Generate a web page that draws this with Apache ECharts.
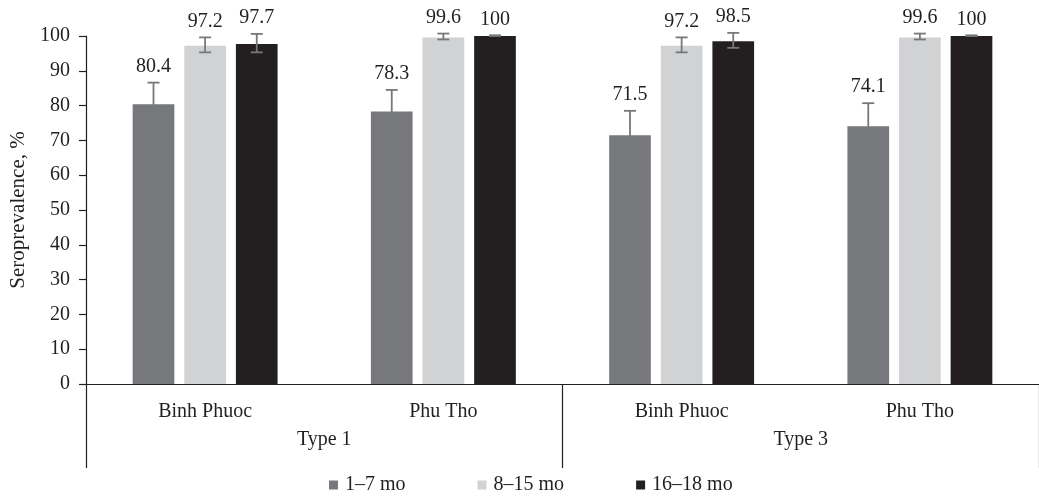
<!DOCTYPE html>
<html><head><meta charset="utf-8">
<script src="https://cdn.jsdelivr.net/npm/echarts@6/dist/echarts.min.js"></script>
<style>html,body{margin:0;padding:0;background:#fff}#c{width:1039px;height:500px}</style>
</head><body><div id="c"></div>
<script>
const sites = ['Binh Phuoc', 'Phu Tho', 'Binh Phuoc', 'Phu Tho'];
const types = ['Type 1', 'Type 3'];
const seriesNames = ['1–7 mo', '8–15 mo', '16–18 mo'];
const v1 = [80.4, 78.3, 71.5, 74.1];
const v2 = [97.2, 99.6, 97.2, 99.6];
const v3 = [97.7, 100, 98.5, 100];
const hi1 = [86.6, 84.5, 78.5, 80.7];
const lo1 = [74.2, 72.1, 64.5, 67.5];
const hi2 = [99.6, 100.7, 99.6, 100.7];
const lo2 = [95.3, 99.0, 95.3, 99.0];
const hi3 = [100.6, 100.2, 100.9, 100.2];
const lo3 = [95.3, 100, 96.6, 100];

const colors = ['#77787b', '#d1d2d4', '#231f20'];
const values = [v1, v2, v3];
const his = [hi1, hi2, hi3];
const los = [lo1, lo2, lo3];
const FONT = 'Liberation Serif';
const FS = 20;
const BAR_W = 0.175;        // fraction of category width
const GAP = 10 / 42;        // barGap ratio

const chart = echarts.init(document.getElementById('c'));
const series = [];
values.forEach((vals, i) => {
  series.push({
    name: seriesNames[i], type: 'bar', data: vals,
    barWidth: (BAR_W * 100) + '%', barGap: (GAP * 100) + '%',
    itemStyle: { color: colors[i] }, z: 2
  });
});
values.forEach((vals, i) => {
  series.push({
    type: 'custom', z: 5, silent: true,
    data: vals.map((v, k) => [k, v, los[i][k], his[i][k]]),
    renderItem: function (params, api) {
      const k = api.value(0);
      const bw = api.size([1, 0])[0];
      const off = (i - 1) * BAR_W * (1 + GAP) * bw;
      const c = api.coord([k, api.value(1)]);
      const x = c[0] + off;
      const yh = api.coord([k, api.value(3)])[1];
      const yl = api.coord([k, api.value(2)])[1];
      const cap = 6;
      const st = { stroke: '#77787b', lineWidth: 1.8 };
      return {
        type: 'group', children: [
          { type: 'line', shape: { x1: x, y1: yh, x2: x, y2: yl }, style: st },
          { type: 'line', shape: { x1: x - cap, y1: yh, x2: x + cap, y2: yh }, style: st },
          { type: 'line', shape: { x1: x - cap, y1: yl, x2: x + cap, y2: yl }, style: st },
          { type: 'text', x: x, y: yh - 6, style: {
              text: String(api.value(1)), fill: '#231f20', font: FS + 'px "' + FONT + '"',
              textAlign: 'center', textVerticalAlign: 'bottom' } }
        ]
      };
    }
  });
});

chart.setOption({
  animation: false,
  textStyle: { fontFamily: FONT },
  grid: { left: 86, top: 36, width: 960, height: 348, containLabel: false },
  legend: {
    top: 470, left: 324, itemWidth: 9, itemHeight: 9, itemGap: 72,
    icon: 'rect',
    data: seriesNames,
    textStyle: { fontFamily: FONT, fontSize: FS, color: '#231f20', padding: [0, 0, 0, 2] }
  },
  xAxis: [
    { type: 'category', data: sites, position: 'bottom',
      axisLine: { show: true, lineStyle: { color: '#231f20', width: 1.2 } },
      axisTick: { show: false },
      axisLabel: { fontFamily: FONT, fontSize: FS, color: '#231f20', margin: 18 } },
    { type: 'category', data: types, position: 'bottom',
      axisLine: { show: false },
      axisTick: { show: true, length: 84, lineStyle: { color: '#231f20', width: 1.2 } },
      axisLabel: { fontFamily: FONT, fontSize: FS, color: '#231f20', margin: 46 } }
  ],
  yAxis: {
    type: 'value', min: 0, max: 100, interval: 10,
    name: 'Seroprevalence, %', nameLocation: 'middle', nameGap: 52,
    nameTextStyle: { fontFamily: FONT, fontSize: 21, color: '#231f20' },
    axisLine: { show: true, lineStyle: { color: '#231f20', width: 1.2 } },
    axisTick: { show: true, length: 7, lineStyle: { color: '#231f20', width: 1.2 } },
    axisLabel: { fontFamily: FONT, fontSize: FS, color: '#231f20', margin: 16 },
    splitLine: { show: false }
  },
  series: series
});
</script></body></html>
